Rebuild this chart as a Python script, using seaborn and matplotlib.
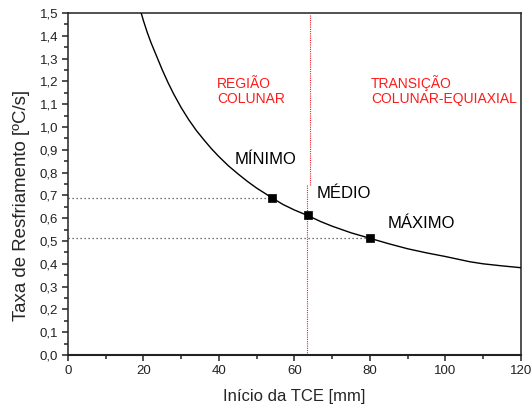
import matplotlib
matplotlib.use("Agg")
import matplotlib.pyplot as plt
from matplotlib.ticker import MultipleLocator, FuncFormatter
import seaborn as sns
import pandas as pd

# Cooling-rate curve versus start of the columnar-to-equiaxed transition
curve_x = [19.4, 20.0, 21.0, 22.0, 23.0, 24.0, 25.0, 26.5, 28.0, 30.0, 32.0,
           34.0, 36.0, 38.0, 40.0, 42.5, 45.0, 47.5, 50.0, 54.0, 57.0, 60.0,
           63.5, 67.0, 70.0, 75.0, 80.0, 85.0, 90.0, 95.0, 100.0, 106.5,
           110.0, 115.0, 120.0]
curve_y = [1.50, 1.466, 1.415, 1.37, 1.33, 1.29, 1.25, 1.195, 1.145, 1.085,
           1.032, 0.985, 0.944, 0.905, 0.87, 0.83, 0.795, 0.762, 0.732, 0.69,
           0.66, 0.636, 0.612, 0.585, 0.565, 0.536, 0.512, 0.488, 0.466,
           0.448, 0.432, 0.409, 0.400, 0.391, 0.383]

# Highlighted operating points
point_names = ["MÍNIMO", "MÉDIO", "MÁXIMO"]
point_x = [54.0, 63.5, 80.0]
point_y = [0.69, 0.612, 0.512]

# Boundary between the columnar region and the transition
boundary_upper_x = 64.0
boundary_lower_x = 63.3
boundary_break_y = 0.746

region_labels = ["REGIÃO\nCOLUNAR", "TRANSIÇÃO\nCOLUNAR-EQUIAXIAL"]

x_ticks = [0, 20, 40, 60, 80, 100, 120]

sns.set_theme(style="ticks")
plt.rcParams["font.family"] = ["Liberation Sans", "DejaVu Sans"]

fig = plt.figure(figsize=(5.31, 4.12), dpi=100)
ax = fig.add_axes([0.128, 0.1383, 0.853, 0.8301])

curve = pd.DataFrame({"x": curve_x, "y": curve_y})
points = pd.DataFrame({"x": point_x, "y": point_y, "nome": point_names})

sns.lineplot(data=curve, x="x", y="y", ax=ax, color="black", linewidth=1.0,
             sort=False, zorder=3)

# Dotted guides from the y axis to the minimum and maximum points
for px, py in [(point_x[0], point_y[0]), (point_x[2], point_y[2])]:
    ax.plot([0, px], [py, py], color="#444444", linestyle=(0, (1, 2.2)),
            linewidth=0.9, zorder=2)

# Red dotted boundary line
ax.plot([boundary_upper_x, boundary_upper_x], [boundary_break_y, 1.49],
        color="#e8202a", linestyle=(0, (1, 1)), linewidth=0.8, zorder=2)
ax.plot([boundary_lower_x, boundary_lower_x], [0, boundary_break_y],
        color="#e8202a", linestyle=(0, (1, 1)), linewidth=0.8, zorder=2)

sns.scatterplot(data=points, x="x", y="y", ax=ax, marker="s", s=40,
                color="black", edgecolor="black", linewidth=0.5, zorder=4)

# Point labels
label_pos = [(44.2, 0.838), (65.9, 0.69), (84.6, 0.556)]
for name, (tx, ty) in zip(point_names, label_pos):
    ax.text(tx, ty, name, fontsize=12, color="black", ha="left", va="baseline")

ax.text(39.5, 1.104, region_labels[0], fontsize=10, color="#ff1a1a",
        ha="left", va="baseline", linespacing=1.15)
ax.text(80.3, 1.104, region_labels[1], fontsize=10, color="#ff1a1a",
        ha="left", va="baseline", linespacing=1.15)

ax.set_xlim(0, 120)
ax.set_ylim(0, 1.5)
ax.set_xticks(x_ticks)
ax.xaxis.set_minor_locator(MultipleLocator(10))
ax.yaxis.set_major_locator(MultipleLocator(0.1))
ax.yaxis.set_minor_locator(MultipleLocator(0.05))
ax.yaxis.set_major_formatter(FuncFormatter(lambda v, _: f"{v:.1f}".replace(".", ",")))

ax.tick_params(which="major", direction="out", length=4.5, width=1.1,
               labelsize=9.5, colors="#222222", pad=2.5)
ax.tick_params(which="minor", direction="out", length=2.8, width=1.1,
               colors="#222222")

for side in ["left", "right", "top", "bottom"]:
    ax.spines[side].set_visible(True)
    ax.spines[side].set_linewidth(1.1)
    ax.spines[side].set_color("#222222")
ax.spines["bottom"].set_linewidth(1.5)

ax.set_xlabel("Início da TCE [mm]", fontsize=12)
ax.set_ylabel("Taxa de Resfriamento [ºC/s]", fontsize=13.4)
ax.xaxis.set_label_coords(0.5, -0.10)
ax.yaxis.set_label_coords(-0.084, 0.436)

fig.savefig("out.png", dpi=100)
